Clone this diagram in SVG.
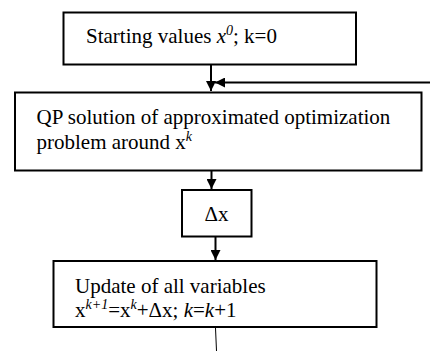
<svg xmlns="http://www.w3.org/2000/svg" width="430" height="351" viewBox="0 0 430 351">
<style>
.box{fill:#fff;stroke:#000;stroke-width:2}
.t{font-family:'Liberation Serif','Times New Roman','DejaVu Serif',serif;font-size:21px;fill:#000}
.i{font-style:italic}
.conn{stroke:#000;stroke-width:2;fill:none}
</style>
<defs>
<marker id="ah" viewBox="0 0 10 10" refX="10" refY="5" markerWidth="10" markerHeight="10" markerUnits="userSpaceOnUse" orient="auto">
<path d="M0,0 L10,5 L0,10 Z" fill="#000"/>
</marker>
</defs>
<rect width="430" height="351" fill="#fff"/>
<g id="connectors">
<line class="conn" x1="211" y1="65" x2="211" y2="91" marker-end="url(#ah)"/>
<line class="conn" x1="430" y1="82.5" x2="215" y2="82.5" marker-end="url(#ah)"/>
<line class="conn" x1="211.5" y1="171" x2="211.5" y2="189" marker-end="url(#ah)"/>
<line class="conn" x1="215.5" y1="237" x2="215.5" y2="260" marker-end="url(#ah)"/>
<line x1="215.5" y1="328" x2="216.5" y2="351" stroke="#000" stroke-width="1"/>
</g>
<g id="start">
<rect class="box" x="63.5" y="12.5" width="292.5" height="52"/>
<text class="t" font-family="Liberation Serif, serif" x="86" y="43">Starting values <tspan class="i">x</tspan><tspan class="i" font-size="14" dy="-8">0</tspan><tspan dy="8">; k=0</tspan></text>
</g>
<g id="qp">
<rect class="box" x="15" y="92.5" width="406.5" height="78"/>
<text class="t" font-family="Liberation Serif, serif" x="36.5" y="124">QP solution of approximated optimization</text>
<text class="t" font-family="Liberation Serif, serif" x="36.5" y="149">problem around x<tspan class="i" font-size="14" dy="-8">k</tspan></text>
</g>
<g id="dx">
<rect class="box" x="182" y="190" width="69.5" height="46.5"/>
<text class="t" font-family="Liberation Serif, serif" x="216.5" y="221" text-anchor="middle">Δx</text>
</g>
<g id="update">
<rect class="box" x="53.5" y="261" width="323" height="66"/>
<text class="t" font-family="Liberation Serif, serif" x="75" y="293">Update of all variables</text>
<text class="t" font-family="Liberation Serif, serif" x="75" y="317">x<tspan class="i" font-size="14" dy="-8">k+1</tspan><tspan dy="8">=x</tspan><tspan class="i" font-size="14" dy="-8">k</tspan><tspan dy="8">+Δx; </tspan><tspan class="i">k</tspan>=<tspan class="i">k</tspan>+1</text>
</g>
</svg>
